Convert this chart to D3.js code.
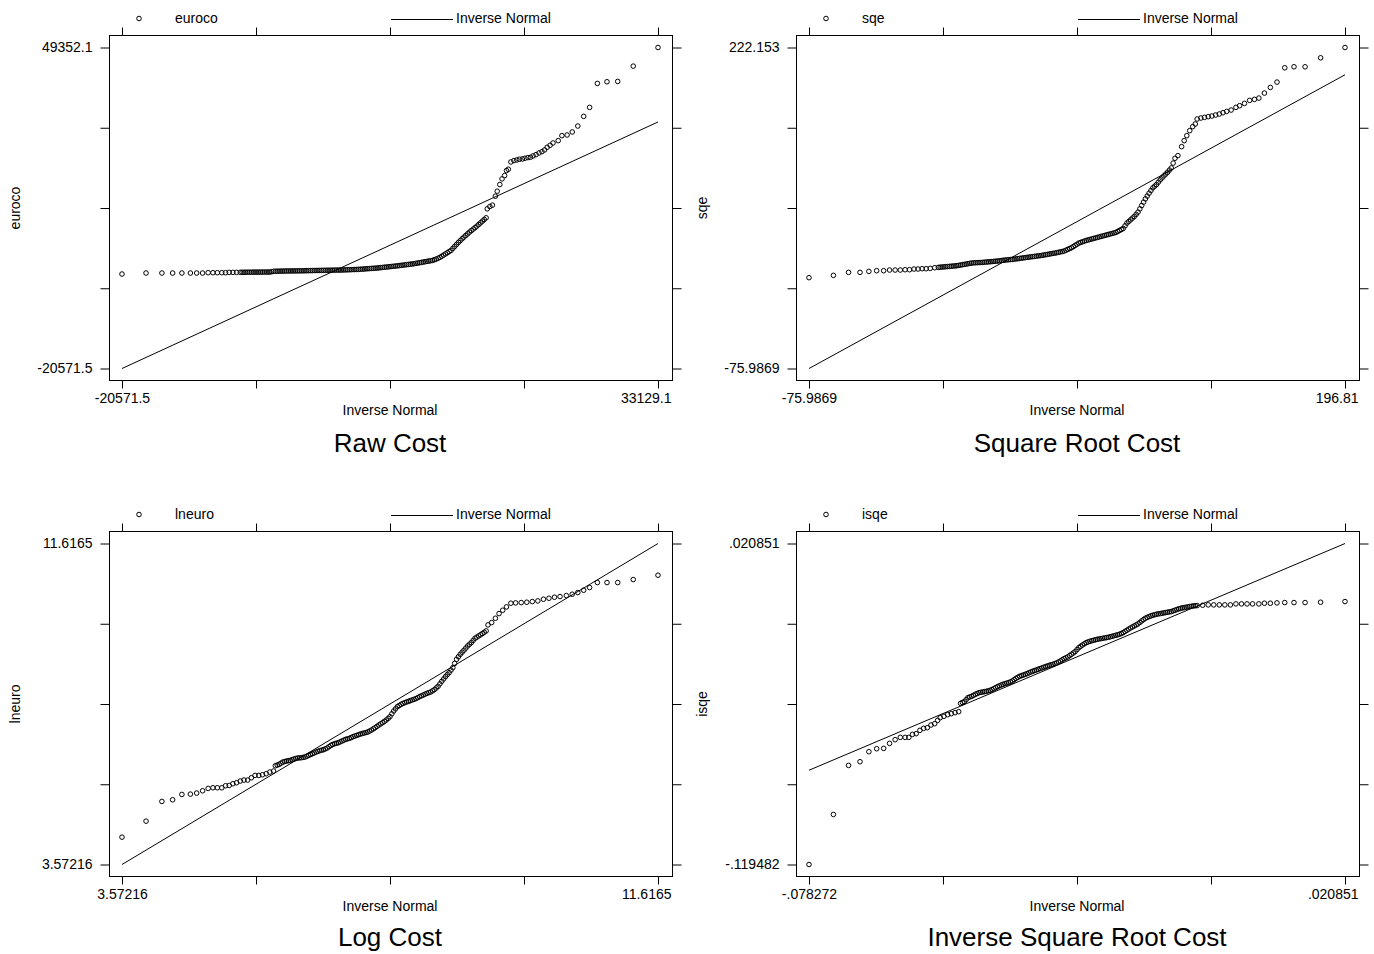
<!DOCTYPE html>
<html>
<head>
<meta charset="utf-8">
<script src="https://cdn.jsdelivr.net/npm/d3@7"></script>
<style>
body { margin: 0; background: #fff; }
svg { display: block; font-family: "Liberation Sans", Arial, Helvetica, sans-serif; }
</style>
</head>
<body>
<svg id="chart" width="1374" height="954"></svg>
<script>
// panel texts
var titles = ["Raw Cost", "Square Root Cost", "Log Cost", "Inverse Square Root Cost"];
var varNames = ["euroco", "sqe", "lneuro", "isqe"];
var xLimits = [[-20571.5, 33129.1], [-75.9869, 196.81], [3.57216, 11.6165], [-.078272, .020851]];
var yLimits = [[-20571.5, 49352.1], [-75.9869, 222.153], [3.57216, 11.6165], [-.119482, .020851]];
var xTickLabels = [["-20571.5", "33129.1"], ["-75.9869", "196.81"], ["3.57216", "11.6165"], ["-.078272", ".020851"]];
var yTickLabels = [["-20571.5", "49352.1"], ["-75.9869", "222.153"], ["3.57216", "11.6165"], ["-.119482", ".020851"]];

// raw cost: inverse normal quantile vs sorted value
var rawX = [-20571.5, -18164, -16572, -15498, -14572, -13720, -13091, -12498, -11943, -11461, -11017, -10572, -10202, -9832, -9461, -9091,
  -8720, -8350, -7980, -7609, -7239, -6869, -6498, -6128, -5757, -5387,
  -5017, -4646, -4276, -3905, -3535, -3165, -2794, -2424, -2054, -1683,
  -1313, -942, -572, -202, 169, 539, 910, 1280, 1650, 2021,
  2391, 2761, 3132, 3502, 3873, 4243, 4613, 4984, 5354, 5725,
  6095, 6465, 6836, 7206, 7576, 7947, 8317, 8688, 9058, 9428,
  9799, 10169, 10540, 10910, 11280, 11651, 12021, 12391, 12762, 13132,
  13503, 13873, 14243, 14614, 14984, 15355, 15725, 15910,
  16021, 16281, 16540, 16836, 17021, 17280, 17502, 17762, 17947, 18132,
  18391, 18688, 18984, 19243, 19539, 19799, 20095, 20354, 20613, 20910,
  21206, 21502, 21761, 22021, 22317, 22613, 23132, 23502, 24021, 24539,
  25095, 25685, 26277, 27055, 28018, 29092, 30648, 33129.1,
  // more readings along the dense band
  -8535, -8165, -7795, -7424, -7054, -6683, -6313, -5943, -5572, -5202,
  -4831, -4461, -4091, -3720, -3350, -2979, -2609, -2239, -1868, -1498,
  -1128, -757, -387, -16, 354, 724, 1095, 1465, 1836, 2206,
  2576, 2947, 3317, 3687, 4058, 4428, 4799, 5169, 5539, 5910,
  6280, 6651, 7021, 7391, 7762, 8132, 8502, 8873, 9243, 9614,
  9984, 10354, 10725, 11095, 11466, 11836, 12206, 12577, 12947, 13318,
  13688, 14058, 14429, 14799, 15170, 15540];
var rawY = [7, 224, 224, 224, 224, 224, 224, 224, 297, 297, 297, 297, 297, 369, 369, 369,
  380, 390, 400, 410, 420, 425, 430, 441, 441, 600,
  620, 640, 660, 670, 680, 690, 700, 710, 730, 750,
  770, 790, 804, 820, 835, 850, 865, 876, 900, 930,
  960, 990, 1021, 1080, 1140, 1200, 1255, 1311, 1400, 1490,
  1570, 1660, 1745, 1845, 1945, 2050, 2150, 2253, 2400, 2540,
  2688, 2833, 2978, 3268, 3630, 4137, 4645, 5152, 6022, 6891,
  7688, 8413, 9138, 9790, 10442, 11166, 11891, 12253,
  14209, 14715, 15005, 16961, 18048, 19497, 20730, 21454, 22539, 22832,
  24426, 24716, 24861, 25006, 25078, 25223, 25368, 25440, 25730, 26020,
  26383, 26672, 27035, 27614, 28049, 28557, 29064, 30151, 30296, 30948,
  32248, 34352, 36309, 41526, 41889, 41961, 45294, 49352.1,
  385, 395, 405, 415, 422, 428, 436, 441, 520, 610,
  630, 650, 665, 675, 685, 695, 705, 720, 740, 760,
  780, 797, 812, 828, 842, 858, 870, 888, 915, 945,
  975, 1005, 1050, 1110, 1170, 1228, 1283, 1355, 1445, 1530,
  1615, 1700, 1795, 1895, 2000, 2100, 2200, 2325, 2470, 2614,
  2760, 2905, 3120, 3450, 3880, 4390, 4900, 5590, 6455, 7290,
  8050, 8775, 9465, 10115, 10805, 11530];

// square root cost
var sqrtX = [-75.9869, -63.57, -55.86, -50.03, -45.51, -41.56, -37.99, -34.98, -32.15, -29.52, -27.07, -24.82, -22.56, -20.49,
  -18.42, -16.35, -14.28, -12.02, -10.14, -8.26, -6.37, -4.49, -2.61, -0.73, 1.15, 3.03, 4.91, 6.79,
  8.67, 10.55, 12.44, 14.32, 16.20, 18.08, 19.96, 21.84, 23.72, 25.60,
  27.49, 29.37, 31.25, 33.13, 35.01, 36.89, 38.78, 40.66, 42.54, 44.42,
  46.30, 48.18, 50.06, 51.95, 53.83, 55.71, 57.59, 59.47, 61.35, 63.23,
  65.11, 67.00, 68.88, 70.76, 72.64, 74.52, 76.40, 78.28, 80.16, 82.05,
  83.93, 85.81, 87.69, 89.57, 91.45, 93.34, 95.22, 97.10, 98.98, 100.86,
  102.74, 104.62, 106.51, 108.39, 110.27,
  111.77, 113.66, 114.97, 116.29, 117.79, 119.30, 120.61, 121.56, 123.44, 125.32,
  127.20, 129.08, 130.96, 132.84, 134.73, 136.61, 138.87, 141.31, 143.19, 145.64,
  148.27, 150.72, 152.98, 155.80, 158.81, 162.20, 166.15, 170.85, 176.49, 184.40, 196.81,
  // more readings along the dense band
  -9.20, -7.32, -5.44, -3.55, -1.67, 0.21, 2.09, 3.97, 5.85, 7.73,
  9.61, 11.50, 13.38, 15.26, 17.14, 19.02, 20.90, 22.78, 24.67, 26.55,
  28.43, 30.31, 32.19, 34.07, 35.95, 37.84, 39.72, 41.60, 43.48, 45.36,
  47.24, 49.12, 51.01, 52.89, 54.77, 56.65, 58.53, 60.41, 62.29, 64.17,
  66.06, 67.94, 69.82, 71.70, 73.58, 75.46, 77.34, 79.23, 81.11, 82.99,
  84.87, 86.75, 88.63, 90.51, 92.40, 94.28, 96.16, 98.04, 99.92, 101.80,
  103.68, 105.57, 107.45, 109.33];
var sqrtY = [8.35, 10.52, 13.30, 13.30, 14.22, 14.84, 14.84, 15.46, 15.46, 15.46, 15.77, 15.77, 16.39, 16.39,
  16.70, 16.70, 17.01, 17.63, 17.94, 18.25, 18.56, 18.86, 19.17, 19.48, 20.10, 20.72, 21.33, 21.95,
  22.26, 22.41, 22.57, 22.88, 23.19, 23.50, 23.81, 24.27, 24.73, 25.04,
  25.35, 25.81, 26.28, 26.74, 27.21, 27.67, 28.13, 28.60, 29.06, 29.68,
  30.30, 30.92, 31.53, 32.30, 33.08, 34.62, 36.17, 38.33, 40.49, 41.73,
  42.96, 43.89, 44.81, 45.74, 46.67, 47.59, 48.52, 49.44, 50.37, 52.23,
  54.08, 59.03, 62.12, 65.21, 69.22, 75.40, 81.58, 86.83, 91.77, 94.86,
  99.19, 102.89, 106.29, 110.31, 119.27,
  121.74, 130.08, 135.65, 140.28, 144.92, 148.63, 151.10, 155.73, 156.65, 157.27,
  157.89, 158.51, 159.44, 160.36, 161.60, 162.83, 164.07, 166.54, 168.09, 170.25,
  173.03, 173.96, 175.19, 179.83, 185.08, 190.02, 203.31, 204.23, 204.23, 212.58, 222.153,
  18.10, 18.40, 18.71, 19.02, 19.33, 19.79, 20.41, 21.02, 21.64, 22.10,
  22.33, 22.49, 22.72, 23.03, 23.34, 23.65, 24.04, 24.50, 24.88, 25.19,
  25.58, 26.04, 26.51, 26.97, 27.44, 27.90, 28.36, 28.83, 29.37, 29.99,
  30.61, 31.22, 31.91, 32.69, 33.85, 35.40, 37.25, 39.41, 41.11, 42.34,
  43.42, 44.35, 45.27, 46.20, 47.13, 48.05, 48.98, 49.90, 51.30, 53.15,
  56.55, 60.57, 63.66, 67.21, 72.31, 78.49, 84.20, 89.30, 93.31, 97.02,
  101.04, 104.59, 108.30, 114.79];

// log cost
var logX = [3.572, 3.933, 4.171, 4.332, 4.471, 4.598, 4.693, 4.782, 4.865, 4.937, 5.003, 5.070, 5.126,
  5.181, 5.236, 5.292, 5.347, 5.403, 5.458, 5.514, 5.569, 5.625, 5.680, 5.736, 5.791, 5.847,
  5.874, 5.930, 5.985, 6.041, 6.096, 6.152, 6.207, 6.263, 6.318, 6.374,
  6.429, 6.485, 6.540, 6.596, 6.651, 6.707, 6.762, 6.818, 6.873, 6.929,
  6.984, 7.040, 7.095, 7.151, 7.206, 7.262, 7.317, 7.372, 7.428, 7.483,
  7.539, 7.594, 7.650, 7.705, 7.761, 7.816, 7.872, 7.927, 7.983, 8.038,
  8.094, 8.149, 8.205, 8.260, 8.316, 8.371, 8.427, 8.482, 8.538, 8.593,
  8.649, 8.704, 8.760, 8.815, 8.871, 8.926, 8.981, 9.037,
  9.065, 9.120, 9.176, 9.231, 9.286, 9.342,
  9.408, 9.480, 9.564, 9.647, 9.730, 9.813, 9.897, 9.980, 10.063, 10.146,
  10.241, 10.329, 10.413, 10.501, 10.590, 10.707, 10.851, 11.012, 11.245, 11.6165,
  // more readings along the dense band
  5.902, 5.958, 6.013, 6.069, 6.124, 6.180, 6.235, 6.291, 6.346, 6.402,
  6.457, 6.512, 6.568, 6.623, 6.679, 6.734, 6.790, 6.845, 6.901, 6.956,
  7.012, 7.067, 7.123, 7.178, 7.234, 7.289, 7.345, 7.400, 7.456, 7.511,
  7.567, 7.622, 7.677, 7.733, 7.788, 7.844, 7.899, 7.955, 8.010, 8.066,
  8.121, 8.177, 8.232, 8.288, 8.343, 8.399, 8.454, 8.510, 8.565, 8.621,
  8.676, 8.732, 8.787, 8.842, 8.898, 8.953, 9.009];
var logY = [4.258, 4.659, 5.153, 5.194, 5.328, 5.336, 5.362, 5.420, 5.479, 5.495, 5.495, 5.495, 5.546,
  5.554, 5.596, 5.621, 5.663, 5.688, 5.688, 5.746, 5.805, 5.805, 5.821, 5.847, 5.889, 5.914,
  6.047, 6.081, 6.139, 6.164, 6.181, 6.215, 6.240, 6.248, 6.265, 6.307,
  6.348, 6.390, 6.424, 6.449, 6.491, 6.557, 6.599, 6.624, 6.666, 6.708,
  6.733, 6.775, 6.808, 6.842, 6.867, 6.892, 6.942, 7.001, 7.068, 7.126,
  7.193, 7.277, 7.419, 7.527, 7.586, 7.628, 7.661, 7.695, 7.728, 7.778,
  7.820, 7.862, 7.895, 7.954, 8.037, 8.163, 8.280, 8.380, 8.506, 8.715,
  8.840, 8.941, 9.049, 9.133, 9.242, 9.300, 9.359, 9.426,
  9.576, 9.635, 9.743, 9.860, 9.944, 10.028,
  10.120, 10.128, 10.136, 10.145, 10.161, 10.178, 10.220, 10.245, 10.270, 10.287,
  10.312, 10.345, 10.387, 10.446, 10.513, 10.638, 10.638, 10.638, 10.713, 10.822,
  6.064, 6.110, 6.152, 6.173, 6.198, 6.228, 6.244, 6.257, 6.286, 6.328,
  6.369, 6.407, 6.437, 6.470, 6.524, 6.578, 6.612, 6.645, 6.687, 6.721,
  6.754, 6.792, 6.825, 6.855, 6.880, 6.917, 6.972, 7.035, 7.097, 7.160,
  7.235, 7.348, 7.473, 7.557, 7.607, 7.645, 7.678, 7.712, 7.753, 7.799,
  7.841, 7.879, 7.925, 7.996, 8.100, 8.222, 8.330, 8.443, 8.611, 8.778,
  8.891, 8.995, 9.091, 9.188, 9.271, 9.330, 9.393];

// inverse square root cost
var isqX = [-.078272, -.073760, -.070957, -.068838, -.067198, -.065762, -.064463, -.063370, -.062344, -.061387, -.060498, -.059815, -.059131,
  -.058448, -.057764, -.057081, -.056397, -.055713, -.055030, -.054483, -.054004, -.053321, -.052637, -.051954, -.051270, -.050586,
  -.050244, -.049561, -.048877, -.048194, -.047510, -.046827, -.046143, -.045459, -.044776, -.044092,
  -.043409, -.042725, -.042042, -.041358, -.040674, -.039991, -.039307, -.038624, -.037940, -.037257,
  -.036573, -.035889, -.035206, -.034522, -.033839, -.033155, -.032472, -.031788, -.031104, -.030421,
  -.029737, -.029054, -.028370, -.027687, -.027003, -.026319, -.025636, -.024952, -.024269, -.023585,
  -.022902, -.022218, -.021534, -.020851, -.020167, -.019484, -.018800, -.018117, -.017433, -.016749,
  -.016066, -.015382, -.014699, -.014015, -.013332, -.012648, -.011964, -.011281, -.010597, -.009914,
  -.009230, -.008547, -.007863, -.007179, -.006496,
  -.005471, -.004446, -.003420, -.002395, -.001369, -.000344, .000682, .001707, .002733, .003758,
  .004920, .005946, .007040, .008270, .009706, .011415, .013466, .016337, .020851,
  // more readings along the dense band
  -.049903, -.049219, -.048536, -.047852, -.047168, -.046485, -.045801, -.045118, -.044434, -.043750,
  -.043067, -.042383, -.041700, -.041016, -.040333, -.039649, -.038965, -.038282, -.037598, -.036915,
  -.036231, -.035548, -.034864, -.034180, -.033497, -.032813, -.032130, -.031446, -.030763, -.030079,
  -.029395, -.028712, -.028028, -.027345, -.026661, -.025978, -.025294, -.024610, -.023927, -.023243,
  -.022560, -.021876, -.021193, -.020509, -.019825, -.019142, -.018458, -.017775, -.017091, -.016408,
  -.015724, -.015040, -.014357, -.013673, -.012990, -.012306, -.011622, -.010939, -.010255, -.009572,
  -.008888, -.008205, -.007521, -.006837];
var isqY = [-.119482, -.097600, -.076157, -.074552, -.070176, -.068863, -.068717, -.066529, -.064924, -.063903, -.063903, -.063903, -.062590,
  -.062298, -.060840, -.059964, -.059673, -.058506, -.057922, -.056463, -.055296, -.054712, -.053983, -.053546, -.053108, -.052670,
  -.049024, -.048295, -.046544, -.045960, -.045085, -.044356, -.044064, -.043772, -.043335, -.042605,
  -.041730, -.041000, -.040417, -.039979, -.039250, -.038083, -.037207, -.036624, -.036040, -.035311,
  -.034728, -.034144, -.033561, -.032977, -.032394, -.031956, -.031373, -.030497, -.029476, -.028747,
  -.027580, -.026413, -.024662, -.023495, -.022474, -.021890, -.021453, -.021015, -.020723, -.020431,
  -.020140, -.019702, -.019264, -.018827, -.018098, -.017076, -.016055, -.015180, -.014305, -.012992,
  -.011825, -.011095, -.010512, -.010075, -.009783, -.009491, -.009199, -.008908, -.008324, -.007741,
  -.007303, -.007011, -.006720, -.006428, -.006282,
  -.006136, -.005990, -.005990, -.005990, -.005990, -.005990, -.005553, -.005553, -.005553, -.005553,
  -.005553, -.005261, -.005261, -.005115, -.004969, -.004969, -.004969, -.004823, -.004531,
  -.048660, -.047420, -.046252, -.045523, -.044721, -.044210, -.043918, -.043554, -.042970, -.042168,
  -.041365, -.040709, -.040198, -.039615, -.038667, -.037645, -.036916, -.036332, -.035676, -.035020,
  -.034436, -.033853, -.033269, -.032686, -.032175, -.031665, -.030935, -.029987, -.029112, -.028164,
  -.026997, -.025538, -.024079, -.022985, -.022182, -.021672, -.021234, -.020869, -.020577, -.020286,
  -.019921, -.019483, -.019046, -.018463, -.017587, -.016566, -.015618, -.014743, -.013649, -.012409,
  -.011460, -.010804, -.010294, -.009929, -.009637, -.009345, -.009054, -.008616, -.008033, -.007522,
  -.007157, -.006866, -.006574, -.006355];

var panelX = [rawX, sqrtX, logX, isqX];
var panelY = [rawY, sqrtY, logY, isqY];
var origins = [[0, 0], [687, 0], [0, 496], [687, 496]];
var titleShift = [0, 0, -2, -2];

var svg = d3.select("#chart");
var box = { left: 110, right: 672, top: 36, bottom: 380 };

function qnormPanel(i) {
    var g = svg.append("g")
        .attr("transform", "translate(" + origins[i][0] + "," + origins[i][1] + ")");

    var xl = xLimits[i], yl = yLimits[i];
    var x = d3.scaleLinear().domain(xl).range([122, 658]);
    var y = d3.scaleLinear().domain(yl).range([368.5, 47.5]);

    var xTicks = d3.range(5).map(function(k){ return xl[0] + k * (xl[1] - xl[0]) / 4; });
    var yTicks = d3.range(5).map(function(k){ return yl[0] + k * (yl[1] - yl[0]) / 4; });

    // frame
    g.append("rect")
        .attr("x", box.left - 0.5).attr("y", box.top - 0.5)
        .attr("width", box.right - box.left + 1).attr("height", box.bottom - box.top + 1)
        .attr("fill", "none").attr("stroke", "#000").attr("stroke-width", 1);

    var xFmt = function(d, k){ return k == 0 ? xTickLabels[i][0] : (k == 4 ? xTickLabels[i][1] : ""); };
    var yFmt = function(d, k){ return k == 0 ? yTickLabels[i][0] : (k == 4 ? yTickLabels[i][1] : ""); };

    var bottom = g.append("g")
        .attr("transform", "translate(0," + (box.bottom + 0.5) + ")")
        .call(d3.axisBottom(x).tickValues(xTicks).tickSize(8).tickPadding(5).tickSizeOuter(0).tickFormat(xFmt));
    bottom.selectAll(".tick").filter(function(d, k){ return k == 4; }).select("text")
        .attr("text-anchor", "end").attr("x", box.right - 658 - 1);

    g.append("g")
        .attr("transform", "translate(0," + (box.top - 0.5) + ")")
        .call(d3.axisTop(x).tickValues(xTicks).tickSize(8).tickSizeOuter(0).tickFormat(""));

    g.append("g")
        .attr("transform", "translate(" + (box.left - 0.5) + ",0)")
        .call(d3.axisLeft(y).tickValues(yTicks).tickSize(9).tickPadding(8).tickSizeOuter(0).tickFormat(yFmt));

    g.append("g")
        .attr("transform", "translate(" + (box.right + 0.5) + ",0)")
        .call(d3.axisRight(y).tickValues(yTicks).tickSize(9).tickSizeOuter(0).tickFormat(""));

    g.selectAll(".domain").remove();
    g.selectAll(".tick line").attr("stroke", "#000");
    g.selectAll(".tick text")
        .attr("fill", "#000")
        .style("font-size", "14px")
        .style("font-family", "'Liberation Sans', Arial, sans-serif");

    // reference line y = x
    var line = d3.line()
        .x(function(d){ return x(d); })
        .y(function(d){ return y(d); });
    g.append("path")
        .datum(xl)
        .attr("d", line)
        .attr("fill", "none")
        .attr("stroke", "#000")
        .attr("stroke-width", 1);

    // quantile points
    g.append("g").selectAll("circle")
        .data(d3.zip(panelX[i], panelY[i]))
        .join("circle")
        .attr("cx", function(d){ return x(d[0]); })
        .attr("cy", function(d){ return y(d[1]); })
        .attr("r", 2.3)
        .attr("fill", "none")
        .attr("stroke", "#000")
        .attr("stroke-width", 1);

    // legend
    g.append("circle")
        .attr("cx", 139).attr("cy", 18.5).attr("r", 2.3)
        .attr("fill", "none").attr("stroke", "#000").attr("stroke-width", 1);
    g.append("text")
        .attr("x", 175).attr("y", 23)
        .attr("font-size", "14px")
        .text(varNames[i]);
    g.append("line")
        .attr("x1", 391).attr("x2", 453).attr("y1", 19.5).attr("y2", 19.5)
        .attr("stroke", "#000");
    g.append("text")
        .attr("x", 456).attr("y", 23)
        .attr("font-size", "14px")
        .text("Inverse Normal");

    // axis titles
    g.append("text")
        .attr("x", 390).attr("y", 415)
        .attr("text-anchor", "middle")
        .attr("font-size", "14px")
        .text("Inverse Normal");
    g.append("text")
        .attr("transform", "translate(15,208) rotate(-90)")
        .attr("dy", "0.35em")
        .attr("text-anchor", "middle")
        .attr("font-size", "14px")
        .text(varNames[i]);

    // panel title
    g.append("text")
        .attr("x", 390).attr("y", 452 + titleShift[i])
        .attr("text-anchor", "middle")
        .attr("font-size", "26px")
        .text(titles[i]);
}

for (var p = 0; p < 4; p++) qnormPanel(p);
</script>
</body>
</html>
